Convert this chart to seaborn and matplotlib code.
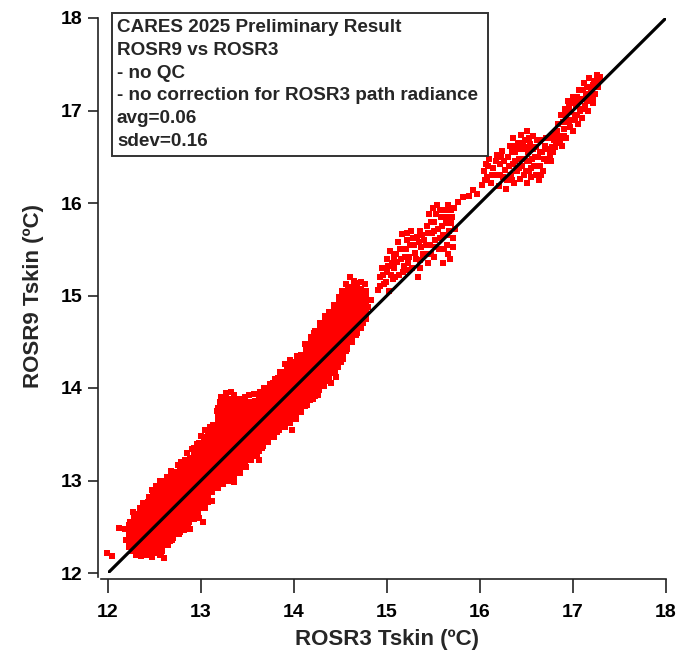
import numpy as np
import pandas as pd
import matplotlib
matplotlib.use("Agg")
import matplotlib.pyplot as plt
import seaborn as sns
from matplotlib.patches import Rectangle

# ---------------- data ----------------
# dense core of the cloud: x column -> y values
core_x_cols = [12.25, 12.3, 12.35, 12.4, 12.45, 12.5, 12.55, 12.6, 12.65, 12.7, 12.75, 12.8,
               12.85, 12.9, 12.95, 13.0, 13.05, 13.1, 13.15, 13.2, 13.25, 13.3, 13.35, 13.4,
               13.45, 13.5, 13.55, 13.6, 13.65, 13.7, 13.75, 13.8, 13.85, 13.9, 13.95, 14.0,
               14.05, 14.1, 14.15, 14.2, 14.25, 14.3, 14.35, 14.4, 14.45, 14.5, 14.55, 14.6,
               14.65, 14.7, 14.75]
core_y_cols = [
    [12.30, 12.40, 12.50],
    [12.28, 12.38, 12.48, 12.58],
    [12.24, 12.34, 12.44, 12.54, 12.62],
    [12.27, 12.37, 12.47, 12.57, 12.67],
    [12.25, 12.35, 12.45, 12.55, 12.65, 12.75],
    [12.28, 12.38, 12.48, 12.58, 12.68, 12.78, 12.86],
    [12.25, 12.35, 12.45, 12.55, 12.65, 12.75, 12.85, 12.90],
    [12.32, 12.42, 12.52, 12.62, 12.72, 12.82, 12.92],
    [12.37, 12.47, 12.57, 12.67, 12.77, 12.87, 12.97],
    [12.44, 12.54, 12.64, 12.74, 12.84, 12.94, 13.03],
    [12.47, 12.57, 12.67, 12.77, 12.87, 12.97, 13.07],
    [12.52, 12.62, 12.72, 12.82, 12.92, 13.02, 13.12],
    [12.57, 12.67, 12.77, 12.87, 12.97, 13.07, 13.17, 13.20],
    [12.62, 12.72, 12.82, 12.92, 13.02, 13.12, 13.22],
    [12.67, 12.77, 12.87, 12.97, 13.07, 13.17, 13.27, 13.33],
    [12.72, 12.82, 12.92, 13.02, 13.12, 13.22, 13.32, 13.38],
    [12.79, 12.89, 12.99, 13.09, 13.19, 13.29, 13.39, 13.45],
    [12.90, 13.00, 13.10, 13.20, 13.30, 13.40, 13.50],
    [12.94, 13.04, 13.14, 13.24, 13.34, 13.44, 13.54, 13.58],
    [13.00, 13.10, 13.20, 13.30, 13.40, 13.50, 13.60, 13.70, 13.76],
    [13.03, 13.13, 13.23, 13.33, 13.43, 13.53, 13.63, 13.73, 13.83],
    [13.07, 13.17, 13.27, 13.37, 13.47, 13.57, 13.67, 13.77, 13.86],
    [13.10, 13.20, 13.30, 13.40, 13.50, 13.60, 13.70, 13.80, 13.85],
    [13.14, 13.24, 13.34, 13.44, 13.54, 13.64, 13.74, 13.82],
    [13.19, 13.29, 13.39, 13.49, 13.59, 13.69, 13.79, 13.81],
    [13.24, 13.34, 13.44, 13.54, 13.64, 13.74, 13.82],
    [13.29, 13.39, 13.49, 13.59, 13.69, 13.79, 13.83],
    [13.34, 13.44, 13.54, 13.64, 13.74, 13.84],
    [13.40, 13.50, 13.60, 13.70, 13.80, 13.89],
    [13.46, 13.56, 13.66, 13.76, 13.86, 13.93],
    [13.51, 13.61, 13.71, 13.81, 13.91, 13.98],
    [13.55, 13.65, 13.75, 13.85, 13.95, 14.03],
    [13.62, 13.72, 13.82, 13.92, 14.02, 14.09],
    [13.65, 13.75, 13.85, 13.95, 14.05, 14.15],
    [13.69, 13.79, 13.89, 13.99, 14.09, 14.19, 14.23],
    [13.72, 13.82, 13.92, 14.02, 14.12, 14.22, 14.26],
    [13.77, 13.87, 13.97, 14.07, 14.17, 14.27, 14.28],
    [13.83, 13.93, 14.03, 14.13, 14.23, 14.33],
    [13.89, 13.99, 14.09, 14.19, 14.29, 14.39, 14.41],
    [13.94, 14.04, 14.14, 14.24, 14.34, 14.44, 14.49],
    [14.00, 14.10, 14.20, 14.30, 14.40, 14.50, 14.56],
    [14.07, 14.17, 14.27, 14.37, 14.47, 14.57, 14.65],
    [14.13, 14.23, 14.33, 14.43, 14.53, 14.63, 14.73],
    [14.18, 14.28, 14.38, 14.48, 14.58, 14.68, 14.77],
    [14.25, 14.35, 14.45, 14.55, 14.65, 14.75, 14.85],
    [14.34, 14.44, 14.54, 14.64, 14.74, 14.84, 14.93],
    [14.44, 14.54, 14.64, 14.74, 14.84, 14.94, 15.01],
    [14.52, 14.62, 14.72, 14.82, 14.92, 15.02, 15.05],
    [14.59, 14.69, 14.79, 14.89, 14.99, 15.07],
    [14.67, 14.77, 14.87, 14.97, 15.05],
    [14.77, 14.87, 14.97, 15.03],
]

# scattered single points: outliers, cloud edges, and the warmer clusters
outlier_x = [11.99, 12.04, 12.12, 12.18, 12.19, 12.27, 12.60, 12.56, 12.69,
             12.88, 13.02, 13.12, 13.35, 13.62, 13.98, 14.12, 14.22, 14.40, 14.45]
outlier_y = [12.22, 12.18, 12.49, 12.48, 12.36, 12.66, 12.16, 12.20, 12.36,
             12.48, 12.55, 12.78, 12.98, 13.22, 13.55, 14.48, 14.60, 14.05, 14.12]

upper_edge_x = [12.24, 12.28, 12.34, 12.38, 12.44, 12.47, 12.52, 12.56, 12.63, 12.68, 12.75, 12.78,
                12.85, 12.90, 12.96, 13.00, 13.04, 13.10, 13.14, 13.17, 13.20, 13.22, 13.27, 13.32,
                13.36, 13.42, 13.47, 13.52, 13.57, 13.63, 13.68, 13.74, 13.80, 13.85, 13.90, 13.96,
                14.03, 14.08, 14.13, 14.18, 14.23, 14.28, 14.33, 14.38, 14.43, 14.48, 14.52, 14.56,
                14.60, 14.64, 14.68, 14.72, 14.76]
upper_edge_y = [12.55, 12.62, 12.70, 12.76, 12.82, 12.90, 12.94, 13.00, 13.04, 13.10, 13.17, 13.20,
                13.30, 13.34, 13.40, 13.48, 13.55, 13.58, 13.60, 13.75, 13.85, 13.90, 13.95, 13.96,
                13.92, 13.88, 13.90, 13.92, 13.94, 13.96, 14.00, 14.04, 14.10, 14.17, 14.26, 14.30,
                14.35, 14.36, 14.45, 14.55, 14.62, 14.70, 14.78, 14.82, 14.90, 14.98, 15.05, 15.12,
                15.20, 15.16, 15.14, 15.15, 15.12]

lower_edge_x = [12.26, 12.30, 12.36, 12.42, 12.47, 12.52, 12.58, 12.64, 12.70, 12.76, 12.82, 12.86,
                12.92, 12.98, 13.04, 13.08, 13.12, 13.18, 13.24, 13.30, 13.36, 13.42, 13.48, 13.54,
                13.60, 13.66, 13.72, 13.78, 13.84, 13.90, 13.96, 14.02, 14.08, 14.14, 14.20, 14.26,
                14.32, 14.38, 14.44, 14.50, 14.56, 14.62, 14.68, 14.74, 14.80, 14.83]
lower_edge_y = [12.24, 12.20, 12.18, 12.20, 12.17, 12.22, 12.24, 12.30, 12.38, 12.42, 12.46, 12.54,
                12.58, 12.60, 12.70, 12.82, 12.88, 12.92, 12.96, 13.00, 13.05, 13.08, 13.15, 13.22,
                13.27, 13.35, 13.42, 13.47, 13.55, 13.58, 13.62, 13.66, 13.74, 13.82, 13.88, 13.92,
                14.02, 14.08, 14.16, 14.28, 14.40, 14.50, 14.60, 14.70, 14.88, 14.95]

c15_x = [14.90, 14.92, 14.95, 14.97, 15.00, 15.00, 15.02, 15.03, 15.05, 15.06,
         15.08, 15.10, 15.12, 15.13, 15.15, 15.16, 15.18, 15.20, 15.20, 15.22,
         15.24, 15.26, 15.27, 15.29, 15.30, 15.32, 15.33, 15.35, 15.35, 15.37,
         15.40, 15.41, 15.43, 15.44, 15.45, 15.46, 15.48, 15.49, 15.50, 15.50,
         15.52, 15.54, 15.55, 15.56, 15.58, 15.60, 15.60, 15.62, 15.63, 15.65,
         15.66, 15.67, 15.68, 15.70, 15.71, 15.72, 15.76, 15.82, 15.88, 15.92, 15.97,
         14.93, 14.96, 14.99, 15.01, 15.04, 15.07, 15.09, 15.11, 15.14, 15.17,
         15.19, 15.21, 15.23, 15.25, 15.28, 15.31, 15.34, 15.36, 15.38, 15.39,
         15.42, 15.44, 15.47, 15.47, 15.51, 15.53, 15.53, 15.57, 15.57, 15.59,
         15.61, 15.64, 15.64, 15.66, 15.69, 15.69, 15.71, 15.73]
c15_y = [15.06, 15.20, 15.30, 15.12, 15.25, 15.40, 15.05, 15.48, 15.35, 15.18,
         15.30, 15.45, 15.58, 15.22, 15.40, 15.66, 15.32, 15.50, 15.28, 15.60,
         15.42, 15.70, 15.30, 15.55, 15.46, 15.63, 15.20, 15.38, 15.70, 15.52,
         15.60, 15.45, 15.75, 15.35, 15.88, 15.55, 15.68, 15.95, 15.42, 15.80,
         15.60, 15.98, 15.72, 15.50, 15.85, 15.65, 15.35, 15.92, 15.78, 15.55,
         15.98, 15.70, 15.40, 15.85, 15.62, 15.95, 16.01, 16.06, 16.08, 16.14, 16.10,
         15.10, 15.22, 15.15, 15.32, 15.22, 15.42, 15.20, 15.36, 15.50, 15.25,
         15.42, 15.68, 15.35, 15.55, 15.62, 15.40, 15.58, 15.30, 15.65, 15.45,
         15.55, 15.68, 15.45, 15.80, 15.70, 15.88, 15.52, 15.62, 15.92, 15.75,
         15.50, 15.85, 15.65, 15.45, 15.78, 15.92, 15.52, 15.72]

c16_x = [16.02, 16.04, 16.06, 16.08, 16.10, 16.12, 16.14, 16.16, 16.18, 16.20,
         16.22, 16.24, 16.25, 16.27, 16.28, 16.30, 16.32, 16.33, 16.35, 16.36,
         16.37, 16.38, 16.40, 16.41, 16.42, 16.43, 16.44, 16.45, 16.46, 16.47,
         16.48, 16.50, 16.50, 16.51, 16.52, 16.53, 16.54, 16.55, 16.56, 16.57,
         16.58, 16.60, 16.60, 16.62, 16.63, 16.64, 16.65, 16.67, 16.68, 16.70,
         16.72, 16.74, 16.75, 16.77, 16.80,
         16.05, 16.09, 16.13, 16.17, 16.21, 16.23, 16.26, 16.29, 16.31, 16.34,
         16.34, 16.38, 16.39, 16.42, 16.43, 16.46, 16.47, 16.49, 16.50, 16.53,
         16.53, 16.55, 16.57, 16.59, 16.61, 16.61, 16.64, 16.66, 16.69, 16.71,
         16.73, 16.76, 16.78]
c16_y = [16.20, 16.35, 16.42, 16.28, 16.48, 16.22, 16.38, 16.30, 16.52, 16.18,
         16.42, 16.56, 16.28, 16.36, 16.15, 16.50, 16.62, 16.30, 16.42, 16.70,
         16.22, 16.55, 16.35, 16.65, 16.48, 16.26, 16.74, 16.40, 16.58, 16.30,
         16.68, 16.45, 16.22, 16.78, 16.55, 16.35, 16.64, 16.28, 16.48, 16.72,
         16.40, 16.60, 16.30, 16.50, 16.25, 16.68, 16.40, 16.55, 16.35, 16.62,
         16.45, 16.70, 16.52, 16.60, 16.68,
         16.25, 16.40, 16.30, 16.45, 16.30, 16.50, 16.45, 16.25, 16.40, 16.55,
         16.25, 16.45, 16.62, 16.38, 16.58, 16.65, 16.48, 16.35, 16.60, 16.70,
         16.45, 16.38, 16.58, 16.50, 16.68, 16.40, 16.55, 16.30, 16.48, 16.70,
         16.58, 16.45, 16.72]

c17_x = [16.78, 16.80, 16.82, 16.84, 16.85, 16.87, 16.88, 16.90, 16.91, 16.93,
         16.94, 16.95, 16.97, 16.98, 17.00, 17.00, 17.02, 17.03, 17.05, 17.06,
         17.08, 17.09, 17.10, 17.12, 17.13, 17.14, 17.16, 17.17, 17.18, 17.20,
         17.21, 17.23, 17.24, 17.26, 17.27, 17.28,
         16.81, 16.83, 16.86, 16.89, 16.90, 16.92, 16.96, 16.96, 16.99, 17.01,
         17.04, 17.04, 17.07, 17.10, 17.11, 17.15, 17.15, 17.19, 17.22, 17.22,
         17.25, 17.29]
c17_y = [16.55, 16.75, 16.65, 16.85, 16.72, 16.95, 16.62, 16.80, 17.02, 16.70,
         16.90, 17.10, 16.82, 16.98, 16.78, 17.15, 16.92, 17.05, 16.85, 17.22,
         17.00, 17.12, 16.92, 17.30, 17.05, 17.18, 17.00, 17.35, 17.12, 17.25,
         17.08, 17.32, 17.18, 17.38, 17.25, 17.32,
         16.60, 16.78, 16.68, 16.88, 16.72, 16.95, 16.88, 17.05, 16.90, 17.08,
         16.95, 17.15, 17.10, 17.02, 17.22, 17.25, 17.10, 17.20, 17.28, 17.15,
         17.30, 17.36]

one_to_one = [12, 18]
tick_values = [12, 13, 14, 15, 16, 17, 18]

info_lines = ["CARES 2025 Preliminary Result",
              "ROSR9 vs ROSR3",
              "- no QC",
              "- no correction for ROSR3 path radiance",
              "avg=0.06",
              "sdev=0.16"]

# ---------------- tables ----------------
core = pd.DataFrame({
    "x": [cx for cx, ys in zip(core_x_cols, core_y_cols) for _ in ys],
    "y": [y for ys in core_y_cols for y in ys],
})
singles = pd.DataFrame({
    "x": outlier_x + upper_edge_x + lower_edge_x + c15_x + c16_x + c17_x,
    "y": outlier_y + upper_edge_y + lower_edge_y + c15_y + c16_y + c17_y,
})

# ---------------- figure ----------------
sns.set_style("ticks")
plt.rcParams["font.family"] = ["Liberation Sans", "DejaVu Sans"]
plt.rcParams["font.weight"] = "bold"

W, H = 682, 664
fig = plt.figure(figsize=(W / 100, H / 100), dpi=100)
ax = fig.add_axes([108 / W, 91 / H, 558 / W, 555 / H])

red = "#ff0000"
sns.scatterplot(data=core, x="x", y="y", marker="s", s=62, color=red,
                linewidth=0, ax=ax, clip_on=False, zorder=2)
sns.scatterplot(data=singles, x="x", y="y", marker="s", s=24, color=red,
                linewidth=0, ax=ax, clip_on=False, zorder=2)
ax.plot(one_to_one, one_to_one, color="black", lw=2.3, zorder=3,
        solid_capstyle="butt")

ax.set_xlim(12, 18)
ax.set_ylim(12, 18)
ax.set_xticks(tick_values)
ax.set_yticks(tick_values)
ax.set_xticklabels([str(t) for t in tick_values])
ax.set_yticklabels([str(t) for t in tick_values])

for side in ["top", "right"]:
    ax.spines[side].set_visible(False)
ax.spines["left"].set_position(("outward", 7))
ax.spines["bottom"].set_position(("outward", 4))
ax.spines["left"].set_bounds(12 - 4 / 92.5, 18)
ax.spines["bottom"].set_bounds(12 - 7 / 93, 18)
for side in ["left", "bottom"]:
    ax.spines[side].set_linewidth(1.2)
    ax.spines[side].set_color("#222222")

ax.tick_params(axis="both", direction="out", width=1.2,
               colors="#222222", labelcolor="black", labelsize=14)
ax.tick_params(axis="x", length=10, pad=8)
ax.tick_params(axis="y", length=7.5, pad=4)
for lab in ax.get_xticklabels() + ax.get_yticklabels():
    lab.set_fontweight("bold")

ax.set_xlabel("ROSR3 Tskin (ºC)", fontsize=16, fontweight="bold", labelpad=6)
ax.set_ylabel("ROSR9 Tskin (ºC)", fontsize=16, fontweight="bold", labelpad=12)

# annotation box
bx0, by0, bx1, by1 = 112, 13, 488, 156
fig.patches.append(Rectangle((bx0 / W, 1 - by1 / H), (bx1 - bx0) / W, (by1 - by0) / H,
                             transform=fig.transFigure, facecolor="white",
                             edgecolor="#333333", linewidth=1.4, zorder=5))
for i, line in enumerate(info_lines):
    fig.text(117 / W, 1 - (28 + i * 22.6) / H, line, fontsize=13.6,
             fontweight="bold", va="center", ha="left", zorder=6)

fig.savefig("out.png", dpi=100)
